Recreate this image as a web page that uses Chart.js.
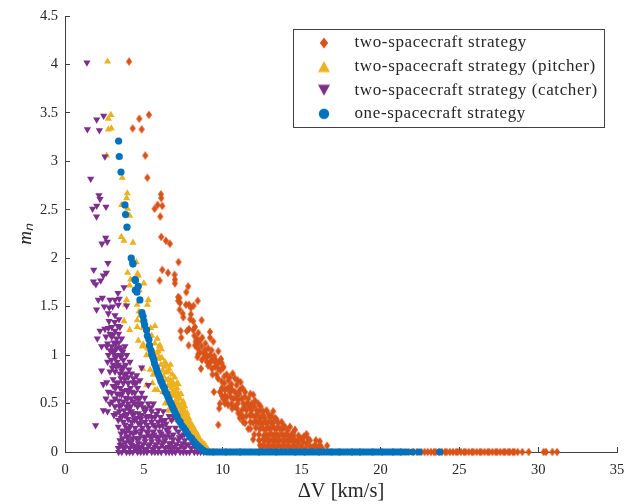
<!DOCTYPE html>
<html>
<head>
<meta charset="utf-8">
<script src="https://cdn.jsdelivr.net/npm/chart.js@4"></script>
<style>
  html, body { margin: 0; padding: 0; background: #fff; }
  canvas { display: block; }
</style>
</head>
<body>
<canvas id="chart" width="634" height="504"></canvas>
<script>
const seriesNames = [
  'two-spacecraft strategy',
  'two-spacecraft strategy (pitcher)',
  'two-spacecraft strategy (catcher)',
  'one-spacecraft strategy'
]

const xTicks = [0, 5, 10, 15, 20, 25, 30, 35]
const yTicks = [0, 0.5, 1, 1.5, 2, 2.5, 3, 3.5, 4, 4.5]

// [delta V, m_n]
const twoValues = [
  [4.06,4.03],[5.32,3.48],[4.71,3.44],[4.29,3.34],[4.86,3.33],[5.09,3.06],[5.22,2.83],[6.08,2.66],[6.10,2.62],
  [5.87,2.55],[6.17,2.54],[5.68,2.51],[6.04,2.43],[6.10,2.22],[6.40,2.18],[6.65,2.15],[7.20,1.96],[6.17,1.88],
  [6.53,1.85],[6.95,1.83],[6.97,1.78],[6.00,1.77],[6.97,1.74],[7.81,1.71],[7.69,1.65],[7.18,1.60],[7.25,1.59],
  [7.18,1.56],[7.29,1.54],[8.41,1.56],[7.67,1.52],[7.86,1.52],[7.98,1.49],[8.15,1.51],[7.27,1.47],[7.46,1.43],
  [7.50,1.39],[7.98,1.42],[7.94,1.37],[8.13,1.35],[8.66,1.36],[8.24,1.29],[8.13,1.26],[7.86,1.27],[7.73,1.25],
  [7.33,1.25],[7.37,1.18],[9.19,1.24],[8.45,1.23],[8.35,1.17],[8.28,1.14],[8.45,1.12],[9.19,1.18],[9.40,1.14],
  [7.84,1.10],[8.24,1.10],[8.41,1.07],[8.66,1.09],[8.87,1.05],[9.08,1.07],[8.77,1.02],[8.45,1.01],[8.98,1.00],
  [9.29,1.05],[9.72,1.04],[9.46,.99],[8.68,.95],[9.55,.95],[9.19,.92],[9.08,.89],[9.89,.96],[9.93,.92],
  [10.03,.87],[8.62,.86],[9.51,.88],[9.72,.86],[9.32,.86],[9.44,.62],[9.78,.45],[9.72,.28],[11.93,.13],[16.62,.065],
  [9.51,.93],[9.82,.94],[10.03,.88],[10.25,.80],[10.63,.81],[9.93,.73],[10.35,.74],[10.77,.76],[11.13,.72],
  [10.46,.67],[10.88,.69],[10.14,.64],[9.82,.62],[10.46,.62],[10.77,.62],[11.09,.64],[11.41,.62],[10.29,.57],
  [10.67,.55],[11.20,.55],[11.62,.55],[11.94,.59],[10.03,.55],[9.82,.50],[10.14,.50],[10.35,.485],[10.77,.47],
  [10.99,.54],[11.51,.50],[11.83,.50],[12.25,.50],[11.20,.43],[11.51,.43],[11.83,.43],[12.15,.43],[10.99,.40],
  [11.30,.365],[12.36,.43],[12.57,.42],[12.78,.43],[13.20,.42],[11.41,.30],[11.72,.38],[12.04,.365],[12.36,.35],
  [12.67,.35],[12.99,.365],[13.31,.35],[11.09,.35],[11.62,.24],[11.94,.30],[12.25,.30],[12.57,.30],[12.89,.31],
  [13.20,.30],[13.52,.30],[13.73,.31],[12.36,.24],[12.67,.23],[12.99,.24],[13.31,.24],[13.62,.24],[13.94,.26],
  [14.26,.26],[14.58,.23],[12.78,.175],[13.10,.185],[13.41,.185],[13.73,.185],[14.05,.185],[14.36,.175],[12.36,.07],
  [12.67,.12],[12.99,.12],[13.31,.12],[13.62,.12],[13.94,.12],[14.26,.12],[14.58,.12],[14.89,.14],[15.31,.185],
  [12.57,.07],[12.89,.07],[13.20,.07],[13.52,.07],[13.84,.07],[14.15,.07],[14.47,.07],[14.79,.09],[15.10,.105],
  [15.53,.12],[15.91,.12],[16.16,.11],[15.53,.06],[15.84,.07],[16.16,.07],[15.31,.09],[15.0,.06],
  [9.0,.98],[9.3,.95],[9.65,.9],[9.85,.84],[10.1,.78],[10.45,.77],[9.6,.8],[10.1,.71],[10.55,.7],[10.95,.74],[9.95,.66],
  [10.3,.66],[10.6,.64],[10.95,.6],[11.25,.66],[10.15,.58],[10.5,.57],[10.85,.56],[11.05,.6],[11.4,.57],[11.75,.6],
  [10.2,.53],[10.55,.5],[10.95,.5],[11.3,.5],[11.65,.49],[12.05,.53],[10.6,.45],[10.9,.45],[11.35,.46],[11.7,.46],
  [12.0,.47],[12.4,.47],[11.15,.38],[11.5,.37],[11.85,.38],[12.2,.39],[12.55,.38],[12.9,.39],[13.1,.37],[11.3,.31],
  [11.75,.31],[12.1,.32],[12.4,.31],[12.75,.3],[13.05,.31],[13.4,.34],[13.85,.27],[11.75,.24],[12.1,.25],[12.5,.25],
  [12.85,.25],[13.15,.26],[13.45,.25],[13.8,.24],[14.1,.22],[14.45,.2],[12.0,.18],[12.3,.18],[12.6,.17],[12.95,.18],
  [13.25,.17],[13.55,.17],[13.9,.17],[14.2,.16],[14.5,.17],[14.8,.17],[15.15,.16],[12.3,.12],[12.55,.13],[12.85,.12],
  [13.15,.12],[13.45,.12],[13.8,.12],[14.1,.12],[14.4,.12],[14.75,.12],[15.05,.14],[15.4,.14],[12.45,.05],[12.75,.05],
  [13.05,.05],[13.35,.05],[13.7,.05],[14.0,.05],[14.3,.04],[14.65,.05],[14.95,.04],[15.25,.04],[15.7,.05],[16.0,.05],[16.3,.04],
  [8.55,1.15],[8.7,1.18],[8.9,1.12],[8.2,1.2],[8.55,1.03],[8.85,.98],[9.2,1.0],[9.0,.93],[9.35,.8],[9.7,.76],[9.95,.58],[8.4,.98]
]
// points lying on the axis, m_n = 0
const twoOnAxis = [
  9.4,10.2,11.1,12.3,13.4,14.6,15.2,16.1,16.9,17.4,18.2,18.7,19.5,20.1,20.8,21.3,21.8,22.1,22.3,22.6,22.8,23.0,
  23.2,23.4,23.5,23.7,23.9,24.1,24.2,24.4,24.6,24.8,24.9,25.1,25.3,25.4,25.6,25.8,25.9,26.1,26.3,26.4,26.6,26.8,
  26.9,27.1,27.3,27.4,27.6,27.8,27.9,28.1,28.2,28.4,28.5,28.7,29.0,29.4,30.35,30.5,30.9,31.2
]

const pitcherValues = [
  [2.70,4.03],[2.91,3.48],[2.75,3.44],[2.75,3.33],[2.94,3.34],[2.64,3.06],[3.63,2.83],[3.95,2.67],[3.91,2.62],
  [3.59,2.55],[3.97,2.51],[4.10,2.44],[3.57,2.22],[3.74,2.18],[4.31,2.16],[4.52,1.96],[3.97,1.85],[4.60,1.84],
  [4.37,1.78],[4.16,1.78],[5.0,1.74],[4.10,1.72],[4.65,1.82],[4.71,1.67],[3.91,1.57],[3.84,1.52],[4.58,1.52],
  [5.28,1.57],[5.22,1.52],[4.69,1.45],[3.74,1.35],[4.58,1.36],[5.70,1.30],[5.43,1.28],[4.10,1.26],[4.58,1.29],
  [4.92,1.28],[5.85,1.17],[4.96,1.11],[5.22,1.09],[5.98,1.09],[5.91,1.04],[6.34,.93],[6.69,.90],[5.64,.80],
  [6.55,.83],[7.1,.71],[6.86,.71],[5.55,.71],[5.85,.64],[6.97,.64],[6.65,.43],[4.75,1.41],[4.65,1.15],[4.9,1.09],
  [5.24,1.07],[6.12,1.06],[6.02,1.10],[5.17,1.0],[4.92,.86],[5.6,.80],[5.17,.69],[5.70,.64],[7.18,.70],[6.82,.71],
  [6.55,.43],[6.76,.33],[5.72,.98],[5.9,.96],[6.08,.9],[6.2,.84],[6.4,.82],[6.55,.75],[6.7,.74],[6.25,.78],[6.5,.68],
  [6.75,.66],[6.9,.69],[7.05,.62],[7.2,.6],[6.65,.6],[6.85,.58],[7.05,.54],[7.3,.55],[7.4,.5],[6.9,.5],[7.1,.47],
  [7.3,.47],[7.5,.45],[7.6,.42],[7.1,.42],[7.25,.4],[7.45,.38],[7.65,.37],[7.75,.34],[7.35,.33],[7.55,.31],[7.7,.3],
  [7.85,.28],[7.95,.26],[7.6,.27],[7.75,.24],[7.95,.22],[8.1,.22],[8.2,.19],[7.85,.2],[8.05,.17],[8.25,.15],[8.35,.14],
  [8.15,.13],[8.35,.1],[8.5,.11],[8.6,.08],[8.4,.07],[8.6,.05],[8.75,.06],[8.85,.03],[8.7,.02],[8.95,.01],[9.1,.015],
  [5.8,1.02],[6.0,.98],[6.15,.97],[6.3,.88],[6.45,.9],[6.6,.86],[6.8,.8],[6.95,.77],[7.1,.66],[6.4,.74],[6.65,.7],
  [6.8,.62],[6.95,.58],[7.15,.56],[7.35,.6],[7.5,.52],[7.0,.5],[7.2,.5],[7.4,.44],[7.6,.47],[7.75,.4],[7.3,.43],
  [7.5,.4],[7.85,.35],[7.45,.34],[7.65,.33],[7.95,.3],[8.05,.28],[7.85,.25],[8.1,.26],[8.25,.22],[8.4,.18],[8.0,.18],
  [8.2,.17],[8.45,.15],[8.55,.13],[8.3,.12],[8.7,.1],[8.5,.08],[8.85,.08],[8.95,.05],[9.05,.03],[5.5,1.2],[5.55,1.05],
  [5.7,1.12],[5.35,1.2],[5.85,.82],[6.1,.75],[5.4,.85],[6.2,.62],[6.35,.5]
]
const pitcherOnAxis = [
  9.2,9.6,10.0,10.5,10.9,11.4,11.8,12.3,12.7,13.2,13.6,14.1,14.5,15.0,15.4,15.9,16.3,16.8,17.3,17.9,18.4,18.9
]

const catcherValues = [
  [1.39,4.02],[2.45,3.47],[2.01,3.43],[1.42,3.33],[2.18,3.32],[2.53,3.05],[1.63,2.82],[2.15,2.65],[2.22,2.61],
  [2.01,2.54],[2.60,2.53],[1.75,2.51],[2.0,2.43],[2.58,2.21],[2.34,2.15],[2.68,2.17],[2.72,1.95],[1.82,1.88],
  [2.62,1.85],[2.43,1.82],[1.8,1.76],[2.26,1.77],[1.96,1.73],[3.74,1.70],[3.36,1.64],[2.37,1.59],[2.11,1.57],
  [2.0,1.47],[2.85,1.57],[3.17,1.57],[3.44,1.58],[2.49,1.50],[2.81,1.49],[3.02,1.50],[3.38,1.52],[3.91,1.51],
  [2.75,1.43],[3.17,1.41],[3.42,1.37],[2.79,1.35],[2.22,1.25],[2.53,1.27],[2.05,1.17],[2.75,1.28],[2.96,1.29],
  [3.17,1.25],[3.48,1.29],[2.96,1.19],[3.27,1.17],[3.59,1.17],[2.64,1.09],[2.32,1.09],[2.96,1.09],[3.27,1.07],
  [3.80,1.09],[3.06,1.02],[3.48,1.0],[2.75,1.0],[3.91,1.0],[3.06,.90],[3.38,.90],[3.70,.95],[4.12,.93],[2.85,.83],
  [3.17,.83],[3.48,.81],[3.91,.81],[4.22,.81],[4.86,.87],[4.54,.79],[2.32,.84],[2.43,.70],[2.75,.62],[2.96,.61],
  [3.27,.71],[3.70,.71],[4.01,.71],[4.43,.71],[4.75,.74],[5.28,.69],[3.17,.55],[3.59,.59],[4.01,.61],[4.43,.61],
  [4.86,.61],[2.43,.43],[2.85,.50],[3.17,.47],[3.59,.49],[4.01,.50],[4.43,.50],[4.86,.50],[5.28,.50],[5.60,.50],
  [1.94,.275],[3.38,.33],[3.80,.38],[4.22,.42],[4.65,.40],[5.07,.42],[5.49,.42],[5.91,.43],[6.23,.42],[3.38,.26],
  [3.80,.28],[4.22,.31],[4.65,.30],[5.07,.31],[5.49,.31],[5.91,.31],[6.34,.33],[6.76,.33],[3.48,.12],[3.91,.16],
  [4.33,.19],[4.75,.19],[5.17,.21],[5.60,.21],[6.02,.21],[6.44,.23],[6.86,.18],[7.18,.21],[3.38,.04],[3.80,.055],
  [4.22,.07],[4.65,.09],[5.07,.11],[5.49,.11],[5.91,.11],[6.34,.12],[6.76,.09],[7.18,.12],[7.6,.12],[8.03,.12],
  [3.05,1.21],[3.4,1.13],[3.65,1.03],[3.2,.97],[3.55,.88],[3.85,.9],[4.05,.85],[4.35,.76],[3.8,.75],[4.15,.66],
  [4.6,.66],[3.85,.56],[4.2,.55],[4.65,.55],[5.05,.56],[3.75,.43],[4.05,.44],[4.4,.4],[4.85,.38],[5.3,.37],[5.7,.36],
  [6.05,.36],[6.6,.37],[6.9,.36],[3.55,.35],[4.0,.34],[4.45,.25],[4.9,.25],[5.3,.25],[5.75,.26],[6.2,.27],[6.6,.25],
  [3.65,.22],[4.05,.24],[4.55,.14],[5.0,.16],[5.35,.17],[5.8,.16],[6.2,.17],[6.65,.16],[7.4,.17],[7.7,.07],[8.2,.06],
  [3.6,.08],[4.05,.12],[4.45,.03],[4.85,.05],[5.3,.06],[5.7,.05],[6.15,.07],[6.55,.05],[6.95,.05],[7.35,.06],[8.4,.03],
  [3.3,.93],[3.6,.84],[3.75,.8],[4.0,.77],[4.3,.72],[4.55,.72],[3.5,.66],[3.7,.63],[3.95,.64],[4.25,.62],[4.5,.56],
  [4.75,.56],[3.4,.53],[3.7,.52],[3.95,.55],[4.3,.52],[4.6,.47],[4.95,.46],[3.45,.42],[3.9,.47],[4.15,.47],[4.7,.5],
  [5.15,.45],[5.45,.46],[3.6,.37],[3.95,.39],[4.3,.38],[4.55,.35],[4.8,.34],[5.15,.36],[5.5,.36],[5.8,.39],[6.15,.32],
  [3.7,.31],[3.9,.25],[4.15,.27],[4.4,.33],[4.8,.29],[5.2,.28],[5.6,.28],[6.0,.27],[6.4,.29],[3.55,.19],[3.85,.2],
  [4.15,.2],[4.5,.21],[4.85,.22],[5.25,.2],[5.65,.18],[6.1,.19],[6.55,.2],[7.0,.25],[3.65,.14],[4.0,.16],[4.3,.14],
  [4.7,.14],[5.1,.15],[5.5,.15],[5.95,.15],[6.4,.16],[6.85,.13],[7.25,.15],[7.55,.18],[3.5,.07],[3.85,.1],[4.2,.1],
  [4.6,.05],[4.95,.08],[5.35,.08],[5.75,.08],[6.2,.1],[6.6,.09],[7.05,.08],[7.45,.09],[7.85,.08],[3.75,.03],[4.1,.04],
  [4.35,.06],[4.75,.03],[5.15,.03],[5.55,.03],[5.95,.04],[6.35,.04],[6.75,.03],[7.15,.03],[7.55,.04],[8.0,.04],[8.25,.09],
  [2.95,.95],[3.1,1.13],[2.85,1.05],[2.6,1.19],[3.4,1.22],[3.15,1.34],[3.25,1.0],[3.55,.98],[2.7,.93],[3.4,.72],[3.05,.75],
  [2.7,1.12],[2.85,1.22],[3.2,1.12],[3.35,1.3],[3.6,1.06],[3.1,1.05],[3.45,1.08],[3.25,.88],[3.0,.87],[3.7,.88],[3.55,.76],
  [3.2,.66],[3.45,.6],[3.05,.68],[3.3,.6],[2.65,.72],[2.6,.55],[3.0,.52],[2.7,.42],[3.1,.38],[3.25,.4],[3.45,.47]
]
const catcherOnAxis = [
  3.4,3.6,3.9,4.1,4.3,4.6,4.8,5.0,5.2,5.5,5.7,5.9,6.1,6.4,6.6,6.8,7.0,7.3,7.5,7.7,7.9,8.2,8.4,8.6,8.8
]

const oneValues = [
  [3.40,3.21],[3.44,3.05],[3.55,2.89],[3.80,2.55],[3.84,2.45],[3.93,2.32],[4.20,2.00],[4.31,1.94],[4.30,1.95],
  [4.44,1.78],[4.47,1.77],[4.65,1.71],[4.46,1.67],[4.56,1.65],[4.75,1.57],[4.88,1.44],[4.95,1.40],[5.0,1.35],
  [5.05,1.31],[5.17,1.26],[5.22,1.20],[5.32,1.16],[5.36,1.10],[5.45,1.05],[5.5,1.01],[5.56,.98],[5.63,.95],
  [5.68,.91],[5.76,.88],[5.82,.85],[5.87,.82],[5.95,.79],[6.02,.76],[6.08,.73],[6.15,.71],[6.22,.68],[6.30,.66],
  [6.36,.62],[6.45,.60],[6.52,.57],[6.6,.54],[6.68,.51],[6.75,.49],[6.83,.46],[6.92,.43],[7.0,.40],[7.1,.37],
  [7.2,.33],[7.3,.31],[7.42,.27],[7.53,.25],[7.65,.22],[7.77,.19],[7.9,.16],[8.03,.14],[8.17,.11],[8.3,.085],
  [8.45,.06],[8.6,.04],[8.75,.02],[8.9,.005]
]
const oneOnAxis = [
  9.0,9.15,9.3,9.45,9.6,9.75,9.9,10.05,10.2,10.35,10.5,10.65,10.8,10.95,11.1,11.25,11.4,11.55,11.7,11.85,12.0,12.15,
  12.3,12.45,12.6,12.75,12.9,13.05,13.2,13.35,13.5,13.65,13.8,13.95,14.1,14.25,14.4,14.55,14.7,14.85,15.0,15.15,15.3,
  15.45,15.6,15.75,15.9,16.05,16.2,16.35,16.5,16.65,16.8,16.95,17.1,17.25,17.4,17.55,17.7,17.85,18.0,18.15,18.3,18.45,
  18.6,18.75,18.9,19.05,19.2,19.35,19.5,19.65,19.8,19.95,20.1,20.25,20.4,20.55,20.7,20.85,21.0,21.15,21.3,21.5,21.65,
  22.03,22.45,23.76
]

function points (values, onAxis) {
  return values.map(v => ({ x: v[0], y: v[1] })).concat(onAxis.map(x => ({ x, y: 0 })))
}

// marker images, the built in rectRot can't do a narrow diamond
function marker (size, color, draw) {
  const c = document.createElement('canvas')
  c.width = size
  c.height = size
  const ctx = c.getContext('2d')
  ctx.fillStyle = color
  ctx.beginPath()
  draw(ctx, size / 2)
  ctx.fill()
  return c
}

function diamond (size, halfW, halfH, color) {
  return marker(size, color, (ctx, m) => {
    ctx.moveTo(m, m - halfH)
    ctx.lineTo(m + halfW, m)
    ctx.lineTo(m, m + halfH)
    ctx.lineTo(m - halfW, m)
    ctx.closePath()
  })
}

function triangle (size, halfW, up, color) {
  const h = halfW * 0.9
  return marker(size, color, (ctx, m) => {
    ctx.moveTo(m - halfW, m + (up ? h : -h))
    ctx.lineTo(m + halfW, m + (up ? h : -h))
    ctx.lineTo(m, m + (up ? -h : h))
    ctx.closePath()
  })
}

function circle (size, r, color) {
  return marker(size, color, (ctx, m) => ctx.arc(m, m, r, 0, Math.PI * 2))
}

const orange = '#D95319'
const yellow = '#EDB120'
const purple = '#7E2F8E'
const blue = '#0072BD'
const textColor = '#262626'
const axisColor = '#404040'

const legendMarkers = [
  diamond(14, 4.2, 5.5, orange),
  triangle(14, 6, true, yellow),
  triangle(14, 6, false, purple),
  circle(14, 5.2, blue)
]

const legendBox = {
  id: 'legendBox',
  afterLayout (chart) {
    const legend = chart.legend
    legend.left = 295.4
    legend.top = 27.9
    legend.adjustHitBoxes()
    // the reference legend font runs wider than Liberation Serif
    if (!legend.spaced) {
      const draw = legend.draw
      legend.draw = function () {
        chart.ctx.letterSpacing = '0.62px'
        draw.call(this)
        chart.ctx.letterSpacing = '0px'
      }
      legend.spaced = true
    }
  },
  afterDraw (chart) {
    const ctx = chart.ctx
    ctx.save()
    ctx.strokeStyle = axisColor
    ctx.lineWidth = 1
    ctx.strokeRect(293.5, 29.5, 311, 98)
    ctx.restore()
  }
}

// tick padding would otherwise push the plot area in
function noMargins (axis) {
  axis.paddingTop = 0
  axis.paddingBottom = 0
  axis.paddingLeft = 0
  axis.paddingRight = 0
}

new Chart(document.getElementById('chart'), {
  type: 'scatter',
  data: {
    datasets: [
      {
        label: seriesNames[0],
        data: points(twoValues, twoOnAxis),
        order: 4,
        pointStyle: diamond(10, 3.1, 4.2, orange),
        backgroundColor: orange,
        clip: false
      },
      {
        label: seriesNames[1],
        data: points(pitcherValues, pitcherOnAxis),
        order: 3,
        pointStyle: 'triangle',
        pointRadius: 4.1,
        borderWidth: 0,
        backgroundColor: yellow,
        clip: false
      },
      {
        label: seriesNames[2],
        data: points(catcherValues, catcherOnAxis),
        order: 2,
        pointStyle: 'triangle',
        pointRotation: 180,
        pointRadius: 4.2,
        borderWidth: 0,
        backgroundColor: purple,
        clip: false
      },
      {
        label: seriesNames[3],
        data: points(oneValues, oneOnAxis),
        order: 1,
        pointStyle: 'circle',
        pointRadius: 3.6,
        borderWidth: 0,
        backgroundColor: blue,
        clip: false
      }
    ]
  },
  options: {
    responsive: false,
    animation: false,
    layout: { padding: { top: 16, right: 17, left: 0, bottom: 0 } },
    plugins: {
      tooltip: { enabled: false },
      legend: {
        position: 'chartArea',
        align: 'start',
        labels: {
          usePointStyle: true,
          pointStyleWidth: 44,
          padding: 6.6,
          color: textColor,
          font: { family: '"Liberation Serif", serif', size: 17 },
          generateLabels (chart) {
            return seriesNames.map((text, i) => ({
              text,
              datasetIndex: i,
              fontColor: textColor,
              pointStyle: legendMarkers[i],
              lineWidth: 0,
              strokeStyle: 'transparent',
              fillStyle: 'transparent'
            }))
          }
        }
      }
    },
    scales: {
      x: {
        type: 'linear',
        min: 0,
        max: 35,
        afterBuildTicks (axis) { axis.ticks = xTicks.map(value => ({ value })) },
        afterFit (axis) {
          axis.height = 52
          noMargins(axis)
        },
        grid: { drawOnChartArea: false, tickLength: -5, color: axisColor },
        border: { color: axisColor },
        ticks: {
          padding: 14,
          maxRotation: 0,
          color: textColor,
          font: { family: '"Liberation Serif", serif', size: 14.5 }
        },
        title: {
          display: true,
          text: 'ΔV [km/s]',
          color: textColor,
          padding: { top: 0, bottom: 0 },
          font: { family: '"Liberation Serif", serif', size: 20.5 }
        }
      },
      y: {
        type: 'linear',
        min: 0,
        max: 4.5,
        afterBuildTicks (axis) { axis.ticks = yTicks.map(value => ({ value })) },
        afterFit (axis) {
          axis.width = 65
          noMargins(axis)
        },
        grid: { drawOnChartArea: false, tickLength: -5, color: axisColor },
        border: { color: axisColor },
        ticks: {
          padding: 12,
          color: textColor,
          font: { family: '"Liberation Serif", serif', size: 14.5 },
          callback: value => String(value)
        },
        title: {
          display: true,
          text: 'mₙ',
          color: textColor,
          padding: { top: 15, bottom: 0 },
          font: { family: '"Liberation Serif", serif', size: 19, style: 'italic' }
        }
      }
    }
  },
  plugins: [legendBox]
})
</script>
</body>
</html>
